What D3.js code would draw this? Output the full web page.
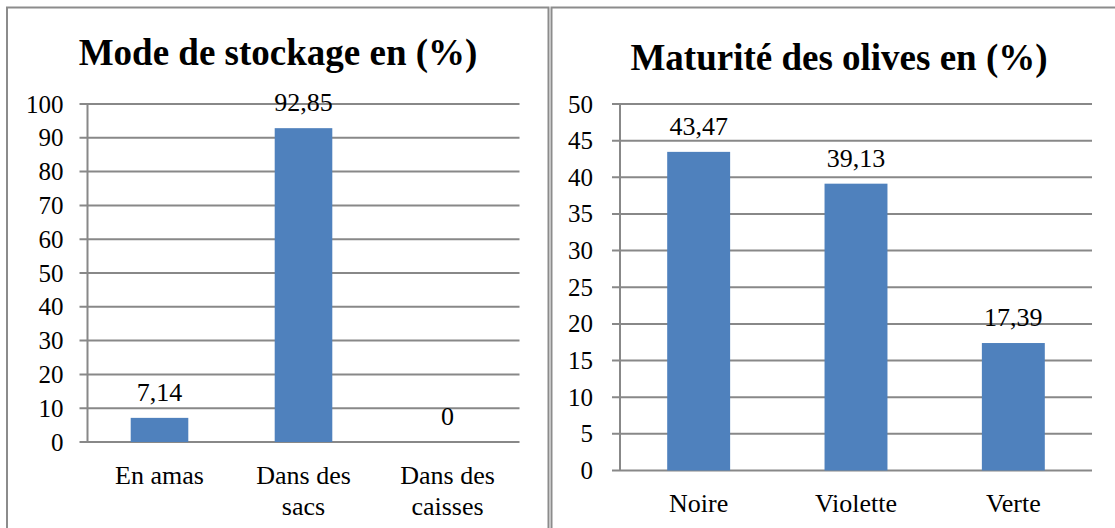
<!DOCTYPE html>
<html><head><meta charset="utf-8">
<script src="https://cdn.jsdelivr.net/npm/d3@7/dist/d3.min.js"></script>
<style>body{margin:0;background:#fff}svg{display:block}text{font-family:"Liberation Serif","Times New Roman",serif;fill:#000}</style>
</head><body>
<script>
// Data
const titleLeft = "Mode de stockage en (%)";
const categoriesLeft = [["En amas"], ["Dans des", "sacs"], ["Dans des", "caisses"]];
const valuesLeft = [7.14, 92.85, 0];
const labelsLeft = ["7,14", "92,85", "0"];
const ticksLeft = [0, 10, 20, 30, 40, 50, 60, 70, 80, 90, 100];

const titleRight = "Maturité des olives en (%)";
const categoriesRight = [["Noire"], ["Violette"], ["Verte"]];
const valuesRight = [43.47, 39.13, 17.39];
const labelsRight = ["43,47", "39,13", "17,39"];
const ticksRight = [0, 5, 10, 15, 20, 25, 30, 35, 40, 45, 50];

const W = 1115, H = 528;
const svg = d3.select("body").append("svg").attr("width", W).attr("height", H);
const gridColor = "#888888";
const barColor = "#4F81BD";

// panel borders
svg.append("path").attr("d", "M7,540 V7.5 H548.5 V540").attr("fill", "none").attr("stroke", "#8c8c8c").attr("stroke-width", 2);
svg.append("path").attr("d", "M551.5,540 V7.5 H1120").attr("fill", "none").attr("stroke", "#8c8c8c").attr("stroke-width", 2);

function chart(o) {
  const x = d3.scaleBand().domain(o.cats.map((d, i) => i)).range([o.x0, o.x1]).paddingInner(0.6).paddingOuter(0.3);
  const y = d3.scaleLinear().domain([0, o.max]).range([o.y0, o.y1]);
  const g = svg.append("g");
  g.append("text").attr("x", o.tx).attr("y", o.ty).attr("text-anchor", "middle")
    .style("font-size", o.tsize + "px").style("font-weight", "bold").text(o.title);
  g.selectAll("line.grid").data(o.ticks).join("line").attr("class", "grid")
    .attr("x1", o.x0 - 8).attr("x2", o.x1).attr("y1", d => y(d)).attr("y2", d => y(d))
    .attr("stroke", gridColor).attr("stroke-width", 2);
  g.append("line").attr("x1", o.x0).attr("x2", o.x0).attr("y1", y(0)).attr("y2", y(o.max))
    .attr("stroke", gridColor).attr("stroke-width", 2);
  g.selectAll("text.tick").data(o.ticks).join("text").attr("class", "tick")
    .attr("x", o.x0 - o.lpad).attr("y", d => y(d)).attr("dy", "0.34em").attr("text-anchor", "end")
    .style("font-size", o.ksize + "px").text(d => d);
  g.selectAll("rect.bar").data(o.vals).join("rect").attr("class", "bar")
    .attr("x", (d, i) => x(i)).attr("width", x.bandwidth())
    .attr("y", d => y(d)).attr("height", d => y(0) - y(d)).attr("fill", barColor);
  g.selectAll("text.val").data(o.vals).join("text").attr("class", "val")
    .attr("x", (d, i) => x(i) + x.bandwidth() / 2).attr("y", d => y(d) - 26).attr("dy", "0.34em")
    .attr("text-anchor", "middle").style("font-size", o.fsize + "px").text((d, i) => o.labels[i]);
  o.cats.forEach((lines, i) => {
    const t = g.append("text").attr("text-anchor", "middle").style("font-size", o.fsize + "px");
    lines.forEach((ln, j) => {
      t.append("tspan").attr("x", x(i) + x.bandwidth() / 2).attr("y", y(0) + 33 + j * 31).attr("dy", "0.34em").text(ln);
    });
  });
}

chart({title: titleLeft, cats: categoriesLeft, vals: valuesLeft, labels: labelsLeft, ticks: ticksLeft,
  max: 100, x0: 87.5, x1: 519.5, y0: 442, y1: 104, tx: 278, ty: 65, tsize: 37, fsize: 26, ksize: 25, lpad: 24});
chart({title: titleRight, cats: categoriesRight, vals: valuesRight, labels: labelsRight, ticks: ticksRight,
  max: 50, x0: 620, x1: 1092, y0: 470.5, y1: 104, tx: 839, ty: 70, tsize: 37, fsize: 26, ksize: 25, lpad: 27});
</script>
</body></html>
